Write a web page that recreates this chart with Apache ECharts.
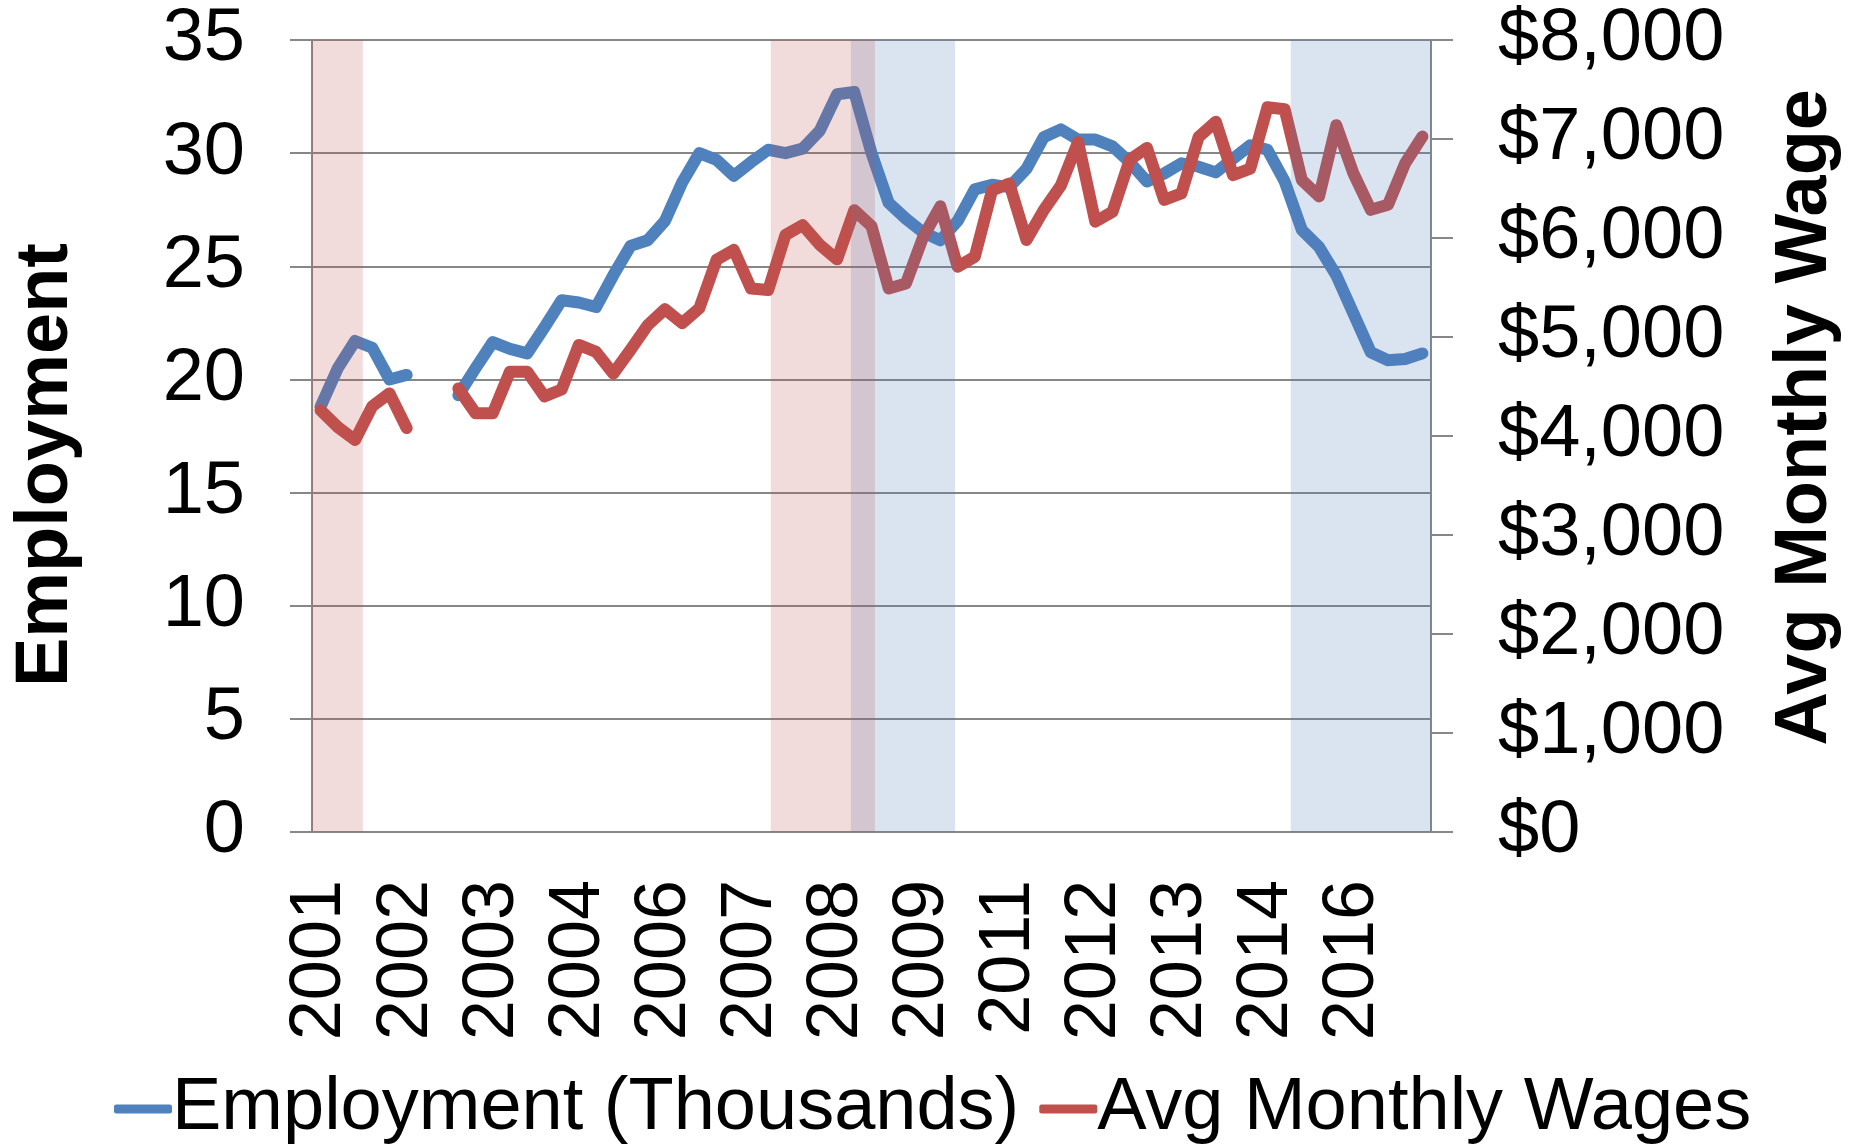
<!DOCTYPE html>
<html>
<head>
<meta charset="utf-8">
<title>Employment and Avg Monthly Wages</title>
<script src="https://cdn.jsdelivr.net/npm/echarts@6/dist/echarts.min.js"></script>
<style>
  html, body { margin: 0; padding: 0; background: #fff; }
  #chart { width: 1855px; height: 1145px; }
</style>
</head>
<body>
<div id="chart"></div>
<script>
// quarters, 2001 Q1 .. 2017 Q1
const quarters = [
  "2001 Q1", "2001 Q2", "2001 Q3", "2001 Q4",
  "2002 Q1", "2002 Q2", "2002 Q3", "2002 Q4",
  "2003 Q1", "2003 Q2", "2003 Q3", "2003 Q4",
  "2004 Q1", "2004 Q2", "2004 Q3", "2004 Q4",
  "2005 Q1", "2005 Q2", "2005 Q3", "2005 Q4",
  "2006 Q1", "2006 Q2", "2006 Q3", "2006 Q4",
  "2007 Q1", "2007 Q2", "2007 Q3", "2007 Q4",
  "2008 Q1", "2008 Q2", "2008 Q3", "2008 Q4",
  "2009 Q1", "2009 Q2", "2009 Q3", "2009 Q4",
  "2010 Q1", "2010 Q2", "2010 Q3", "2010 Q4",
  "2011 Q1", "2011 Q2", "2011 Q3", "2011 Q4",
  "2012 Q1", "2012 Q2", "2012 Q3", "2012 Q4",
  "2013 Q1", "2013 Q2", "2013 Q3", "2013 Q4",
  "2014 Q1", "2014 Q2", "2014 Q3", "2014 Q4",
  "2015 Q1", "2015 Q2", "2015 Q3", "2015 Q4",
  "2016 Q1", "2016 Q2", "2016 Q3", "2016 Q4",
  "2017 Q1"
];

// employment, thousands (null = no data)
const employment = [
  18.8, 20.5, 21.7, 21.4, 20.0, 20.2, null, null,
  19.3, 20.5, 21.65, 21.35, 21.15, 22.3, 23.5, 23.4,
  23.2, 24.6, 25.9, 26.15, 27.0, 28.7, 30.0, 29.7,
  29.0, 29.6, 30.15, 30.0, 30.2, 31.0, 32.6, 32.7,
  30.0, 27.8, 27.1, 26.5, 26.15, 27.0, 28.4, 28.6,
  28.5, 29.3, 30.7, 31.05, 30.6, 30.6, 30.3, 29.6,
  28.75, 29.1, 29.55, 29.4, 29.15, 29.75, 30.35, 30.15,
  28.75, 26.6, 25.85, 24.6, 22.9, 21.2, 20.85, 20.9,
  21.15
];

// average monthly wage, dollars
const wages = [
  4260, 4090, 3960, 4300, 4430, 4080, null, null,
  4480, 4230, 4230, 4650, 4650, 4400, 4470, 4920,
  4850, 4630, 4870, 5120, 5280, 5140, 5290, 5780,
  5880, 5490, 5475, 6030, 6130, 5930, 5785, 6280,
  6120, 5490, 5540, 6010, 6320, 5710, 5810, 6480,
  6550, 5980, 6280, 6530, 6970, 6165, 6265, 6790,
  6910, 6385, 6450, 7020, 7175, 6635, 6700, 7320,
  7300, 6585, 6420, 7140, 6650, 6285, 6335, 6755,
  7025
];

// shaded periods, in quarters counted from the start of 2001
const redPeriods = [[0, 2.95], [26.65, 32.7]];
const bluePeriods = [[31.3, 37.35], [56.85, 65]];

const font = "'Liberation Sans', Arial, sans-serif";
const gridGray = "#878787";

function money(v) {
  return "$" + v.toLocaleString("en-US");
}

let myChart = echarts.init(document.getElementById("chart"));

myChart.setOption({
  animation: false,
  textStyle: { fontFamily: font, color: "#000" },
  grid: { left: 312, right: 424, top: 40, bottom: 313 },
  legend: {
    data: ["Employment (Thousands)", "Avg Monthly Wages"],
    left: 114,
    top: 1072,
    padding: 0,
    itemGap: 20,
    itemWidth: 58,
    itemHeight: 9,
    icon: "roundRect",
    textStyle: { fontSize: 74, fontFamily: font, color: "#000", padding: [0, 0, 0, -5] }
  },
  xAxis: [
    {
      type: "category",
      data: quarters,
      boundaryGap: true,
      axisLine: { lineStyle: { color: gridGray, width: 2 } },
      axisTick: { interval: 0, length: 22, lineStyle: { color: gridGray, width: 2 } },
      axisLabel: {
        interval: 4,
        rotate: 90,
        margin: 48,
        fontSize: 72,
        color: "#000",
        formatter: function (v) { return v.slice(0, 4); }
      },
      splitLine: { show: false }
    },
    {
      // helper scale for the shaded periods
      type: "value",
      min: 0,
      max: quarters.length,
      show: false
    }
  ],
  yAxis: [
    {
      type: "value",
      min: 0,
      max: 35,
      interval: 5,
      axisLine: { show: true, lineStyle: { color: gridGray, width: 2 } },
      axisTick: { show: true, length: 22, lineStyle: { color: gridGray, width: 2 } },
      axisLabel: { fontSize: 74, margin: 67, color: "#000" },
      splitLine: { lineStyle: { color: gridGray, width: 2 } }
    },
    {
      type: "value",
      min: 0,
      max: 8000,
      interval: 1000,
      position: "right",
      axisLine: { show: true, lineStyle: { color: gridGray, width: 2 } },
      axisTick: { show: true, length: 22, lineStyle: { color: gridGray, width: 2 } },
      axisLabel: { fontSize: 74, margin: 67, color: "#000", formatter: money },
      splitLine: { show: false }
    }
  ],
  graphic: [
    {
      type: "text",
      left: 10,
      top: 243,
      rotation: Math.PI / 2,
      style: { text: "Employment", font: "bold 74px " + font, fill: "#000" }
    },
    {
      type: "text",
      right: 12,
      top: 89,
      rotation: Math.PI / 2,
      style: { text: "Avg Monthly Wage", font: "bold 74px " + font, fill: "#000" }
    }
  ],
  series: [
    {
      name: "Employment (Thousands)",
      type: "line",
      data: employment,
      showSymbol: false,
      symbol: "none",
      connectNulls: false,
      z: 2,
      itemStyle: { color: "#4f81bd" },
      lineStyle: { color: "#4f81bd", width: 12, cap: "round", join: "round" }
    },
    {
      name: "Avg Monthly Wages",
      type: "line",
      yAxisIndex: 1,
      data: wages,
      showSymbol: false,
      symbol: "none",
      connectNulls: false,
      z: 2,
      itemStyle: { color: "#c0504d" },
      lineStyle: { color: "#c0504d", width: 12, cap: "round", join: "round" }
    },
    {
      name: "shade-blue",
      type: "line",
      xAxisIndex: 1,
      data: [],
      z: 10,
      silent: true,
      markArea: {
        silent: true,
        z: 10,
        itemStyle: { color: "rgba(79,129,189,0.21)" },
        data: bluePeriods.map(p => [{ xAxis: p[0] }, { xAxis: p[1] }])
      }
    },
    {
      name: "shade-red",
      type: "line",
      xAxisIndex: 1,
      data: [],
      z: 11,
      silent: true,
      markArea: {
        silent: true,
        z: 11,
        itemStyle: { color: "rgba(192,80,77,0.2)" },
        data: redPeriods.map(p => [{ xAxis: p[0] }, { xAxis: p[1] }])
      }
    }
  ]
});
</script>
</body>
</html>
